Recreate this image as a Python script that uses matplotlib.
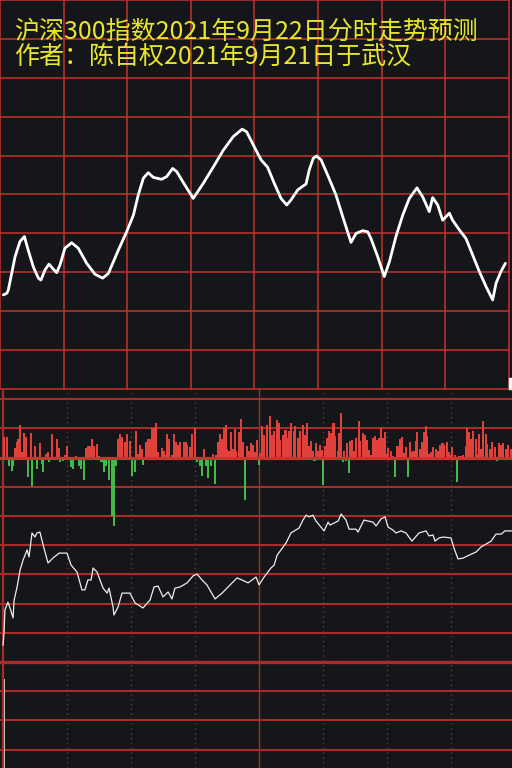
import numpy as np
import matplotlib
matplotlib.use("Agg")
import matplotlib.pyplot as plt
from matplotlib.patches import Rectangle

plt.rcParams['font.family'] = ['Noto Sans CJK SC', 'DejaVu Sans']

TITLE_1 = "沪深300指数2021年9月22日分时走势预测"
TITLE_2 = "作者：陈自权2021年9月21日于武汉"

# forecast curve (top panel): minutes after the open, level in grid rows
pred_min = [1.6, 3.2, 3.9, 5.5, 7.1, 9.4, 11.5, 13.3, 15.7, 18.1,
            19.3, 21.2, 23.1, 24.8, 26.7, 28.3, 30.6, 33.8, 36.9, 40.9,
            44.8, 48.4, 51.1, 55.8, 59.7, 62.9, 65.2, 67.6, 69.9, 72.3,
            76.2, 78.6, 81.4, 83.3, 87.2, 91.1, 95.9, 100.6, 105.3, 110.0,
            114.2, 116.3, 120.7, 123.1, 126.2, 129.3, 132.5, 135.2, 137.2, 140.4,
            144.3, 145.8, 147.7, 149.3, 151.4, 154.5, 158.4, 161.6, 165.5, 167.9,
            171.0, 173.4, 174.9, 178.1, 181.2, 183.6, 186.7, 189.9, 193.0, 196.6,
            199.3, 202.4, 204.0, 206.4, 208.7, 211.9, 213.4, 216.6, 219.7, 222.9,
            226.0, 229.2, 232.3, 233.9, 236.2, 238.3]
pred_val = [2.42, 2.46, 2.54, 2.97, 3.40, 3.79, 3.92, 3.57, 3.14, 2.85,
            2.80, 3.06, 3.21, 3.10, 2.99, 3.19, 3.62, 3.76, 3.62, 3.23,
            2.95, 2.85, 2.97, 3.57, 4.04, 4.47, 4.99, 5.42, 5.56, 5.44,
            5.39, 5.46, 5.67, 5.59, 5.24, 4.90, 5.29, 5.71, 6.14, 6.49,
            6.68, 6.61, 6.14, 5.89, 5.70, 5.29, 4.90, 4.73, 4.86, 5.12,
            5.27, 5.63, 5.93, 5.99, 5.89, 5.50, 4.99, 4.43, 3.77, 4.00,
            4.07, 4.04, 3.87, 3.40, 2.89, 3.27, 3.92, 4.47, 4.90, 5.17,
            4.94, 4.56, 4.92, 4.73, 4.34, 4.52, 4.34, 4.09, 3.87, 3.44,
            3.02, 2.63, 2.29, 2.72, 3.02, 3.23]

# actual intraday line (bottom panel), level in grid rows
real_min = [0.0, 0.5, 0.9, 2.3, 3.3, 4.7, 5.2, 6.6, 8.0, 9.4,
            11.3, 12.2, 13.6, 15.0, 15.9, 17.3, 18.8, 21.1, 23.4, 26.3,
            30.0, 31.9, 34.7, 37.0, 38.4, 39.8, 41.3, 42.2, 44.1, 46.9,
            48.8, 49.7, 51.6, 52.0, 53.9, 55.8, 59.5, 61.9, 64.2, 65.6,
            68.9, 70.8, 72.7, 75.0, 77.4, 79.2, 80.6, 83.0, 86.3, 89.1,
            91.0, 93.3, 95.6, 97.5, 99.4, 102.7, 105.5, 109.7, 112.0, 114.9,
            118.6, 120.0, 122.4, 125.6, 127.1, 128.5, 130.3, 132.7, 135.0, 138.8,
            140.6, 142.1, 143.5, 145.3, 146.7, 150.5, 152.4, 153.3, 157.1, 158.5,
            160.8, 162.2, 165.5, 166.4, 169.2, 173.5, 174.9, 177.2, 179.1, 180.5,
            182.8, 184.2, 186.6, 188.9, 191.7, 195.0, 198.3, 199.7, 201.6, 202.5,
            204.4, 206.3, 210.0, 211.4, 213.3, 215.7, 218.5, 221.8, 224.1, 227.4,
            228.8, 231.1, 233.5, 235.3, 238.6]
real_val = [0.58, 1.03, 1.78, 2.05, 1.85, 1.51, 2.12, 2.57, 3.15, 3.49,
            3.84, 3.60, 4.42, 4.28, 4.42, 4.45, 4.01, 3.39, 3.56, 3.73,
            3.73, 3.32, 3.08, 2.47, 2.47, 2.81, 2.81, 3.22, 3.08, 2.53,
            2.36, 2.53, 1.88, 1.61, 1.88, 2.36, 2.36, 2.02, 1.92, 1.85,
            2.12, 2.57, 2.60, 2.23, 2.40, 2.16, 2.53, 2.57, 2.71, 2.95,
            3.01, 2.81, 2.64, 2.40, 2.16, 2.36, 2.57, 2.88, 2.81, 2.71,
            2.91, 2.64, 2.91, 3.22, 3.32, 3.66, 3.84, 4.08, 4.42, 4.59,
            4.86, 5.03, 4.97, 5.03, 4.83, 4.49, 4.79, 4.69, 4.83, 5.07,
            4.86, 4.55, 4.55, 4.45, 4.86, 4.79, 4.66, 4.90, 4.97, 4.62,
            4.52, 4.42, 4.49, 4.42, 4.14, 4.42, 4.49, 4.32, 4.35, 4.14,
            4.25, 4.28, 4.25, 3.90, 3.53, 3.56, 3.66, 3.77, 3.94, 4.08,
            4.14, 4.38, 4.38, 4.49, 4.49]

# buy/sell bars (bottom panel): minute, signed height
bar_min = [0.5, 1.7, 2.7, 4.1, 4.8, 5.6, 6.4, 7.2, 8.0, 8.7, 10.0, 10.8, 11.9, 13.0, 13.6,
           15.0, 15.8, 17.3, 18.1, 18.9, 20.2, 20.9, 21.7, 22.8, 23.9, 25.5, 26.2, 26.9, 28.0,
           29.1, 30.2, 31.7, 33.0, 34.2, 35.8, 36.6, 38.1, 38.9, 39.7, 40.8, 41.6, 42.7, 44.2,
           45.2, 46.2, 47.5, 48.3, 49.7, 51.1, 51.9, 53.0, 54.1, 54.8, 55.6, 57.2, 58.2,
           59.4, 60.5, 61.7, 62.5, 63.3, 64.1, 64.9, 65.6, 67.2, 68.0, 68.8, 69.9, 70.8, 71.9,
           72.7, 73.4, 74.7, 75.5, 76.3, 77.0, 77.7, 78.6, 79.4, 80.2, 80.9, 82.0, 82.8, 83.6,
           84.9, 85.6, 86.4, 87.5, 88.6, 89.9, 91.1, 92.2, 93.3, 94.2, 95.3, 96.1, 97.4, 98.4,
           99.2, 100.0, 100.8, 101.6, 102.4, 103.4, 104.4, 105.2, 105.9, 107.0, 107.8, 108.6,
           109.4, 110.5, 111.4, 112.5, 113.6, 114.5, 115.3, 116.4, 117.2, 118.3,
           119.1, 120.0, 120.7, 121.4, 122.5, 123.8, 125.2, 126.1, 127.2, 128.3, 129.2, 130.0,
           131.1, 132.4, 133.1, 134.2, 135.2, 136.3, 137.0, 138.1, 139.2, 140.5, 141.4, 142.4,
           143.3, 144.4, 145.3, 146.0, 146.7, 147.7, 148.6, 149.4, 150.2, 151.0, 151.8, 152.7,
           153.8, 154.9, 155.8, 156.9, 157.7, 158.4, 159.2, 160.0, 160.6, 161.3, 162.0, 162.7,
           163.6, 164.7, 165.5, 166.7, 167.5, 168.6, 169.5, 170.5, 171.7, 172.5, 173.3, 174.2,
           175.2, 176.1, 177.0, 178.0,
           179.1, 180.0, 180.5, 181.7, 183.0, 183.9, 184.9, 186.1, 187.2, 188.0, 188.8, 189.9,
           190.6, 191.3, 192.4, 193.4, 194.2, 195.5, 196.6, 197.4, 198.1, 198.9, 199.7, 200.5,
           201.7, 202.8, 203.9, 204.9, 206.0, 206.7, 208.0, 209.1, 210.0, 210.6, 211.7, 212.7,
           213.8, 214.9, 215.8, 216.9, 217.7, 218.4, 219.5, 220.5, 221.6, 222.4, 223.1, 223.9,
           225.2, 226.3, 227.0, 228.3, 229.4, 230.5, 231.7, 232.5, 233.6, 234.5, 235.6, 236.7,
           238.0]
bar_val = [21, 21, -8, -13, -8, 10, 16, 19, 33, 6, 25, 21, -19, 25, -28,
           12, -11, 15, -6, -14, 4, 6, -4, 24, -2, 19, 10, -4, -3,
           3, 12, -9, -11, 2, -8, -11, -22, 10, 12, 12, 19, 12, 14,
           2, -4, -14, -8, -22, -58, -68, -8, 19, 24, 21, 16, 24,
           17, -18, -14, 27, 4, 13, 9, -7, 16, 19, 19, 30, 30, 35,
           6, -2, 10, 7, 3, 24, 19, -2, 3, 24, 16, 13, 16, -2,
           16, 16, 13, 11, 24, 30, -4, -8, -18, 9, -8, -20, -8, 4,
           -26, 3, 16, 24, 19, 30, 33, 9, 7, 26, 9, 29,
           7, 26, 39, 16, -42, 12, 7, 15, 13, 6,
           18, -7, 5, 32, 23, 33, 42, 23, 27, 38, 35, 18,
           23, 28, 20, 27, 35, 27, 32, 20, 27, 33, 23, 35,
           12, 17, 7, -3, 15, 7, 13, 8, -27, 12, 20, 27,
           25, 35, 22, 7, 25, 45, -4, 7, -3, 15, -15, 17,
           18, 7, 20, 37, 17, 25, 23, 18, 8, 3, 20, 22,
           18, 20, 30, 20,
           26, 4, 10, 7, 2, -19, 12, 19, 21, 5, 11, -19,
           16, 6, 7, 17, 26, 9, 16, 26, 32, 22, 4, 6,
           11, 9, 7, 13, 15, 13, 16, 6, 3, 11, 3, -24,
           2, 2, 3, 12, 30, 26, 19, 27, 19, 4, 24, 9,
           37, 24, 14, 9, 16, 11, -3, 15, 13, 15, 9, 13,
           9]

# first-minute volume bar at the lower left (grid rows)
vol_min = [0.6]
vol_top = [-0.58]

W, H = 512, 768
BG = "#151619"
RED_TOP = "#c2322f"
RED_BOT = "#a82c2a"


def rect(left, top, width, height):
    return [left / W, 1 - (top + height) / H, width / W, height / H]


fig = plt.figure(figsize=(W / 100, H / 100), dpi=100, facecolor=BG)

# ---- top panel: forecast ----
ax = fig.add_axes(rect(0, 0, 509, 389))
ax.set_facecolor(BG)
ax.set_xlim(0, 240); ax.set_ylim(0, 10)
ax.axis("off")
for y in range(11):
    ax.axhline(y, color=RED_TOP, lw=1.1, clip_on=False, zorder=1)
for x in range(0, 241, 30):
    ax.axvline(x, color=RED_TOP, lw=1.1, clip_on=False, zorder=1)
ax.plot(pred_min, pred_val, color="white", lw=2.0,
        solid_joinstyle="round", solid_capstyle="round", zorder=3)
ax.text(14 / 509, 1 - 32 / 389, TITLE_1, transform=ax.transAxes,
        color="#e8e62c", fontsize=18, va="center", ha="left", zorder=4)
ax.text(14 / 509, 1 - 57 / 389, TITLE_2, transform=ax.transAxes,
        color="#e8e62c", fontsize=18, va="center", ha="left", zorder=4)

# ---- bottom panel: actual ----
axb = fig.add_axes(rect(0, 389, 512, 379))
axb.set_facecolor(BG)
axb.set_xlim(-1.41, 238.6); axb.set_ylim(-3.63, 9.35)
axb.axis("off")
for y in range(-3, 10):
    axb.axhline(y, color=RED_BOT, lw=2.4 if y == 0 else 1.5, zorder=1)
axb.axvline(0, color=RED_BOT, lw=1.6, zorder=1)
axb.axvline(120, color=RED_BOT, lw=1.0, zorder=1)
for x in (30, 60, 90, 150, 180, 210):
    axb.axvline(x, color="#8e2a28", lw=1.0, ls=(0, (1, 2.5)), zorder=1)
axb.bar(vol_min, np.array(vol_top) + 3.7, bottom=-3.7, width=0.5,
        color="#c4c0c0", zorder=2)
axb.plot(real_min, real_val, color="#eeeeee", lw=0.9, zorder=3)

axv = fig.add_axes(rect(0, 389, 512, 379), sharex=axb)
axv.set_facecolor("none")
axv.set_ylim(-310.5, 68.5)
axv.axis("off")
bv = np.array(bar_val)
axv.bar(bar_min, bv, width=1.0, linewidth=0,
        color=np.where(bv > 0, "#e0413b", "#44b94a"), zorder=2)
axv.axhline(0, color="#c93430", lw=2.3, zorder=3)

fig.patches.append(Rectangle((509 / W, 1 - 389 / H), 3 / W, 11 / H,
                             transform=fig.transFigure, color="white"))

fig.savefig("out.png", dpi=100, facecolor=BG)
